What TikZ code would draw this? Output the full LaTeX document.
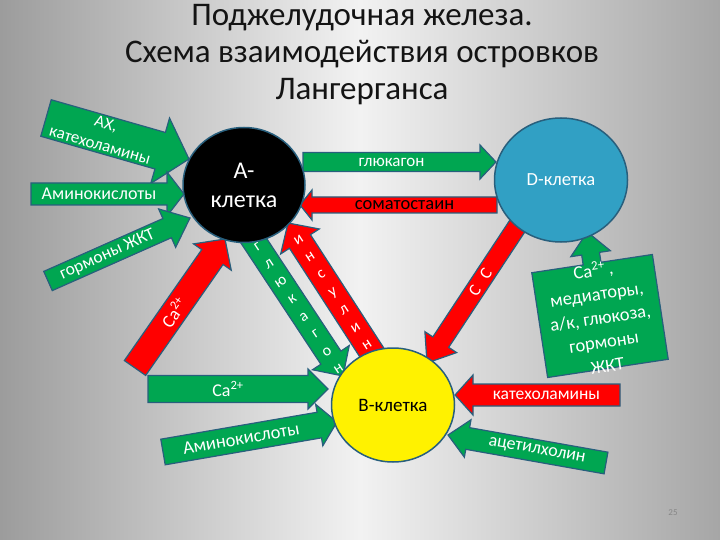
\documentclass[tikz,border=0pt]{standalone}
\usepackage{fontspec}
\setmainfont{Carlito}
\usetikzlibrary{calc,shapes.geometric}
\definecolor{grn}{RGB}{0,166,81}
\definecolor{rd}{RGB}{255,0,0}
\definecolor{edgec}{RGB}{40,95,125}
\definecolor{dcol}{RGB}{49,160,196}
\definecolor{bgL}{RGB}{156,156,156}
\definecolor{bgM}{RGB}{242,242,242}
\definecolor{bgR}{RGB}{166,166,166}
\definecolor{titlecol}{RGB}{20,20,20}
\definecolor{pgnum}{RGB}{135,135,135}
\tikzset{
  blockarrow/.style={draw=edgec, line width=1.2pt, line join=miter},
  garrow/.style={fill=grn},
  rarrow/.style={fill=rd},
  arrowtext/.style={text=white, inner sep=0pt, font=\fontsize{18}{20}\selectfont, align=center},
  cell/.style={ellipse, draw=edgec, line width=1.5pt, align=center, inner sep=0pt},
}
% sizes: half shaft, half head, head length, text position (-1 = shaft centre)
\newcommand\arrowdims[4]{\gdef\bkS{#1}\gdef\bkH{#2}\gdef\bkh{#3}\gdef\bkP{#4}}
% #1 style, #2 name, #3 #4 tail, #5 #6 tip, #7 text options, #8 text
\newcommand\blockarrow[8]{%
  \pgfmathsetmacro\bkAng{atan2(#4-#6,#5-#3)}%
  \pgfmathsetmacro\bkLen{veclen(#5-#3,#6-#4)}%
  \pgfmathsetmacro\bkB{\bkLen-\bkh}%
  \pgfmathsetmacro\bkT{\bkP<0 ? \bkB/2 : \bkP}%
  \coordinate (#2 tail) at (#3,#4);
  \coordinate (#2 tip) at (#5,#6);
  \begin{scope}[shift={(#2 tail)}, rotate=\bkAng]
    \draw[blockarrow,#1] (0,-\bkS) -- (\bkB,-\bkS) -- (\bkB,-\bkH) -- (\bkLen,0)
      -- (\bkB,\bkH) -- (\bkB,\bkS) -- (0,\bkS) -- cycle;
    \node[arrowtext, transform shape, #7] (#2) at (\bkT,0) {#8};
  \end{scope}}
\begin{document}
\begin{tikzpicture}[x=1pt,y=-1pt]
\useasboundingbox (0,0) rectangle (720,540);
\shade[left color=bgL, right color=bgR, middle color=bgM] (0,0) rectangle (720,540);

\node[font=\fontsize{33}{37}\selectfont, align=center, text=titlecol] (title) at (362,55)
  {Поджелудочная железа.\\Схема взаимодействия островков\\Лангерганса};

% arrows
\arrowdims{19}{34}{30}{-1}
\blockarrow{garrow}{ax}{46}{118}{189}{159}{font=\fontsize{17}{22}\selectfont}{АХ,\\катехоламины}
\arrowdims{11}{22}{17}{-1}
\blockarrow{garrow}{amino1}{31}{194}{184}{194}{}{Аминокислоты}
\arrowdims{10.5}{21}{25}{-1}
\blockarrow{garrow}{gkt}{48}{281}{190}{218}{font=\fontsize{17.5}{20}\selectfont}{гормоны ЖКТ}
\arrowdims{13}{23}{22}{-1}
\blockarrow{rarrow}{ca1}{135}{368}{225}{239}{}{Ca\textsuperscript{2+}}
\arrowdims{12}{22}{22}{91}
\blockarrow{garrow}{glucv}{248}{232}{343}{376}{rotate=90, font=\fontsize{16}{21}\selectfont}{г\\л\\ю\\к\\а\\г\\о\\н}
\arrowdims{12.5}{23}{22}{83}
\blockarrow{rarrow}{ins}{378}{362}{288}{223}{rotate=-90, font=\fontsize{16}{21}\selectfont}{и\\н\\с\\у\\л\\и\\н}
\arrowdims{9.5}{17}{16}{-1}
\blockarrow{garrow}{glh}{303}{162}{496}{162}{font=\fontsize{17}{18}\selectfont}{глюкагон}
\arrowdims{8}{15}{12}{-1}
\blockarrow{rarrow}{som}{497}{205}{300}{205}{rotate=180, text=black, font=\fontsize{18.5}{19}\selectfont}{соматостаин}
\arrowdims{9.5}{19}{25}{-1}
\blockarrow{rarrow}{ss}{520}{222}{427}{363}{rotate=180, font=\fontsize{17}{18}\selectfont}{С\hspace{11pt}С}
\arrowdims{13.5}{20}{20}{-1}
\blockarrow{garrow}{ca2}{148}{389}{328}{389}{}{Ca\textsuperscript{2+}}
\arrowdims{13}{21}{18}{-1}
\blockarrow{garrow}{amino2}{163}{452}{337}{422}{font=\fontsize{18.5}{20}\selectfont}{Аминокислоты}
\arrowdims{11}{20}{18}{-1}
\blockarrow{rarrow}{kat}{620}{395}{455}{395}{rotate=180, font=\fontsize{17.5}{19}\selectfont}{катехоламины}
\arrowdims{11}{19}{20}{-1}
\blockarrow{garrow}{ach}{606}{463}{448}{435}{rotate=180}{ацетилхолин}

% callout box arrow
\begin{scope}[shift={(600,316)}, rotate=8.6]
  \draw[blockarrow, garrow] (-61,53) -- (61,53) -- (61,-53) -- (9,-53) -- (9,-63) -- (20,-63)
    -- (0,-85) -- (-20,-63) -- (-9,-63) -- (-9,-53) -- (-61,-53) -- cycle;
  \node[arrowtext, transform shape, font=\fontsize{18.5}{24}\selectfont] (med) at (0,1)
    {Ca\textsuperscript{2+}\,,\\медиаторы,\\а/к, глюкоза,\\гормоны\\ЖКТ};
\end{scope}

% cells
\node[cell, fill=black, minimum width=122pt, minimum height=115pt, text=white,
  font=\fontsize{24}{29}\selectfont] (A) at (244,185) {А-\\клетка};
\node[cell, fill=dcol, minimum width=133pt, minimum height=124pt, text=white,
  font=\fontsize{18.5}{20}\selectfont] (D) at (561,180) {D-клетка};
\node[cell, fill=yellow, minimum width=123pt, minimum height=114pt, text=black,
  font=\fontsize{19}{21}\selectfont] (B) at (393,405) {В-клетка};

\node[font=\fontsize{9}{10}\selectfont, text=pgnum] (pg) at (673,513) {25};
\end{tikzpicture}
\end{document}
